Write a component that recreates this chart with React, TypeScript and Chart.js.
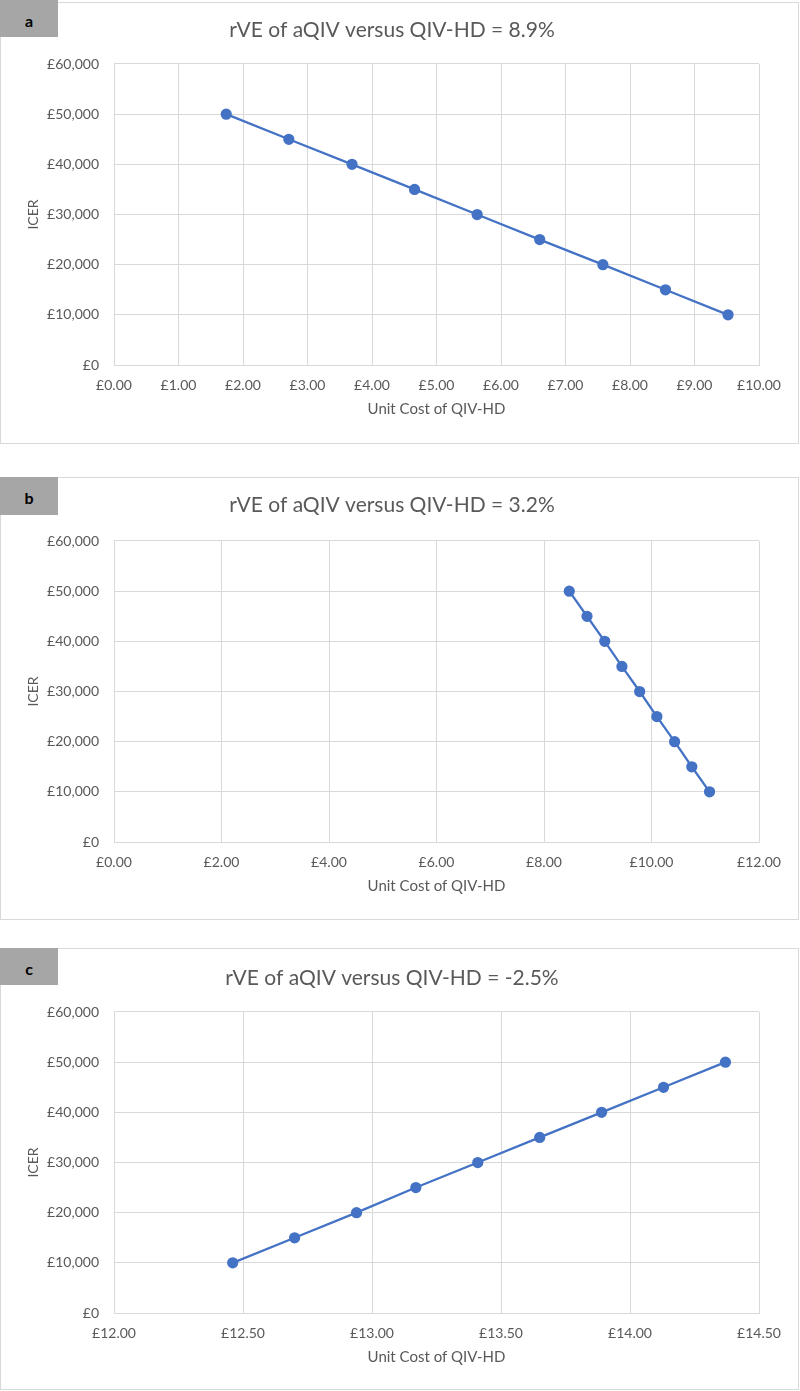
import React, { useEffect, useRef } from "react";
import { Chart, registerables } from "chart.js";

Chart.register(...registerables);

// ---- data ----
const icerDesc = [50000, 45000, 40000, 35000, 30000, 25000, 20000, 15000, 10000];
const icerAsc = [10000, 15000, 20000, 25000, 30000, 35000, 40000, 45000, 50000];
const costA = [1.74, 2.71, 3.69, 4.66, 5.63, 6.6, 7.58, 8.55, 9.52];
const costB = [8.47, 8.8, 9.13, 9.45, 9.78, 10.1, 10.43, 10.75, 11.08];
const costC = [12.46, 12.7, 12.94, 13.17, 13.41, 13.65, 13.89, 14.13, 14.37];
const panelLabels = ["a", "b", "c"];
const panelTitles = [
  "rVE of aQIV versus QIV-HD = 8.9%",
  "rVE of aQIV versus QIV-HD = 3.2%",
  "rVE of aQIV versus QIV-HD = -2.5%",
];
const xTitle = "Unit Cost of QIV-HD";
const yTitle = "ICER";
const xRanges = [
  [0, 10, 1],
  [0, 12, 2],
  [12, 14.5, 0.5],
];
const yRange = [0, 60000, 10000];

const FONT = "Lato, 'Liberation Sans', sans-serif";
const TEXT = "#595959";
const GRID = "#d9d9d9";
const LINE = "#4472C4";

type PanelProps = {
  idx: number;
  xs: number[];
  ys: number[];
  top: number;
  bottom: number;
  labelTop: number;
  labelH: number;
  titleY: number;
  plotTop: number;
  plotBottom: number;
};

function Panel(p: PanelProps) {
  const ref = useRef<HTMLCanvasElement>(null);
  const h = p.bottom - p.top + 1;
  useEffect(() => {
    const canvas = ref.current!;
    const titleSize = 21;
    const titleLH = titleSize * 1.2;
    const padTop = p.titleY - p.top - titleLH / 2;
    const titleBottom = p.plotTop - p.titleY - titleLH / 2;
    const xScaleH = 57;
    const padBottom = h - (p.plotBottom - p.top) - xScaleH;
    const padLeft = 25;
    const [xMin, xMax, xStep] = xRanges[p.idx];
    const chart = new Chart(canvas, {
      type: "scatter",
      data: {
        datasets: [
          {
            data: p.xs.map((x, i) => ({ x, y: p.ys[i] })),
            showLine: true,
            borderColor: LINE,
            backgroundColor: LINE,
            borderWidth: 2.25,
            pointRadius: 4.5,
            pointHoverRadius: 4.5,
            pointBackgroundColor: LINE,
            pointBorderColor: LINE,
          },
        ],
      },
      options: {
        animation: false,
        responsive: false,
        maintainAspectRatio: false,
        layout: { padding: { top: padTop, bottom: padBottom, left: padLeft, right: 798 - 759 } },
        plugins: {
          legend: { display: false },
          tooltip: { enabled: false },
          title: {
            display: true,
            text: panelTitles[p.idx],
            color: TEXT,
            font: { family: FONT, size: titleSize, weight: "normal" },
            padding: { top: 0, bottom: titleBottom },
          },
        },
        scales: {
          x: {
            type: "linear",
            min: xMin,
            max: xMax,
            ticks: {
              stepSize: xStep,
              autoSkip: false,
              maxRotation: 0,
              padding: 12,
              color: TEXT,
              font: { family: FONT, size: 14 },
              callback: (v: any) => "£" + Number(v).toFixed(2),
            },
            grid: { color: GRID, drawTicks: false, lineWidth: 1 },
            border: { color: GRID },
            title: {
              display: true,
              text: xTitle,
              color: TEXT,
              font: { family: FONT, size: 15 },
              padding: { top: 0, bottom: 4 },
            },
            afterFit: (s: any) => {
              s.height = xScaleH;
            },
          },
          y: {
            type: "linear",
            min: yRange[0],
            max: yRange[1],
            ticks: {
              stepSize: yRange[2],
              padding: 15,
              color: TEXT,
              font: { family: FONT, size: 14 },
              callback: (v: any) => "£" + Number(v).toLocaleString("en-GB"),
            },
            grid: { color: GRID, drawTicks: false, lineWidth: 1 },
            border: { color: GRID },
            title: {
              display: true,
              text: yTitle,
              color: TEXT,
              font: { family: FONT, size: 14 },
              padding: { top: 0.2, bottom: 0 },
            },
            afterFit: (s: any) => {
              s.width = 114 - padLeft;
            },
          },
        },
      },
    } as any);
    return () => chart.destroy();
  }, []);
  return (
    <>
      <div style={{ position: "absolute", left: 0, top: p.top, width: 800, height: h }}>
        <canvas
          ref={ref}
          width={798}
          height={h}
          style={{ position: "absolute", left: 0, top: 0, width: 798, height: h }}
        />
        <div
          style={{
            position: "absolute",
            left: 0,
            top: 0,
            width: 797,
            height: h - 2,
            border: "1px solid " + GRID,
            pointerEvents: "none",
          }}
        />
      </div>
      <div
        style={{
          position: "absolute",
          left: 0,
          top: p.labelTop,
          width: 58,
          height: p.labelH,
          background: "#a6a6a6",
          color: "#000",
          fontFamily: FONT,
          fontWeight: "bold",
          fontSize: 16,
          lineHeight: p.labelH + 4 + "px",
          textAlign: "center",
        }}
      >
        {panelLabels[p.idx]}
      </div>
    </>
  );
}

export default function App() {
  return (
    <div style={{ position: "absolute", left: 0, top: 0, width: 800, height: 1391, background: "#fff" }}>
      <Panel idx={0} xs={costA} ys={icerDesc} top={2} bottom={443} labelTop={0} labelH={37} titleY={30} plotTop={64} plotBottom={365} />
      <Panel idx={1} xs={costB} ys={icerDesc} top={477} bottom={919} labelTop={477} labelH={38} titleY={505} plotTop={541} plotBottom={842} />
      <Panel idx={2} xs={costC} ys={icerAsc} top={948} bottom={1389} labelTop={948} labelH={37} titleY={978} plotTop={1012} plotBottom={1313} />
    </div>
  );
}
